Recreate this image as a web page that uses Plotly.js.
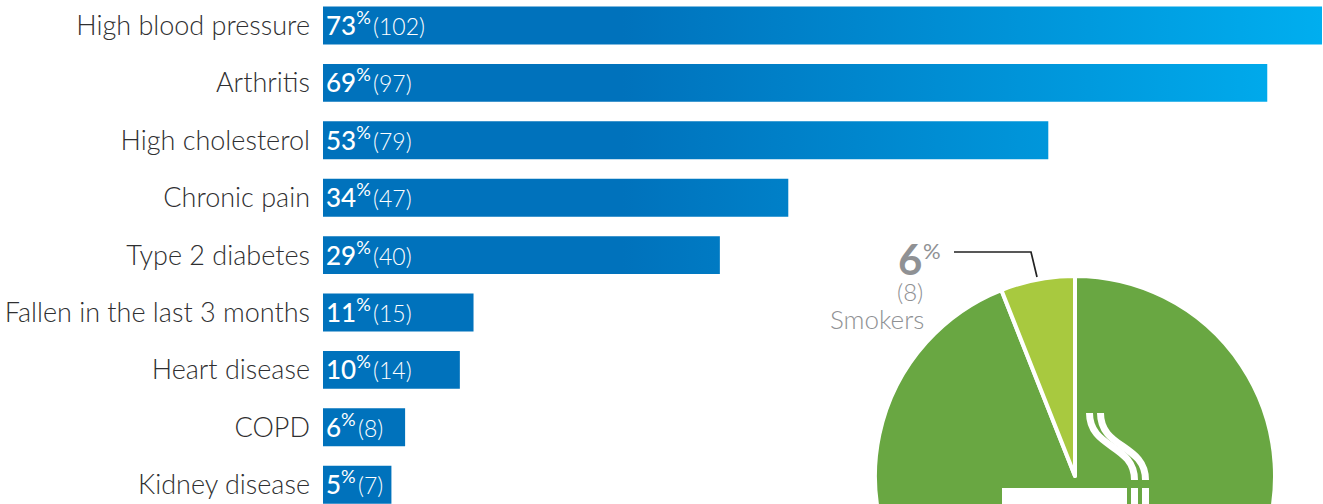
<!DOCTYPE html>
<html>
<head>
<meta charset="utf-8">
<script src="https://cdn.plot.ly/plotly-3.0.1.min.js"></script>
<style>
  html, body { margin: 0; padding: 0; background: #fff; width: 1323px; height: 504px; overflow: hidden; }
  #chart { width: 1323px; height: 700px; }
  #chart text { font-variant-ligatures: none; }
</style>
</head>
<body>
<div id="chart"></div>
<script>
// Health conditions: share of patients and number of patients
const conditions = ['High blood pressure', 'Arthritis', 'High cholesterol', 'Chronic pain', 'Type 2 diabetes',
  'Fallen in the last 3 months', 'Heart disease', 'COPD', 'Kidney disease'];
const percents = [73, 69, 53, 34, 29, 11, 10, 6, 5];
const counts = [102, 97, 79, 47, 40, 15, 14, 8, 7];

// Smoking status
const smokingLabels = ['Non-smokers', 'Smokers'];
const smokingPercents = [94, 6];
const smokerCount = 8;

const W = 1323, H = 700;
const MARGIN_L = 323, MARGIN_R = 1;
const PLOT_W = W - MARGIN_L - MARGIN_R;
const LABEL_FONT = 'Lato, "Open Sans", sans-serif';
const GREY = '#8f9194';

// Paper coordinates are measured across the plot area, inside the margins
const px = x => (x - MARGIN_L) / PLOT_W;
const py = y => 1 - y / H;
const pathOf = parts => parts.map(p => typeof p === 'string' ? p : px(p[0]) + ',' + py(p[1])).join(' ');

const smoke = (dx) => pathOf(['M', [1089.5 + dx, 413], 'C', [1089.5 + dx, 449], [1134.5 + dx, 444], [1134.5 + dx, 480]]);
const paperShape = o => Object.assign({ xref: 'paper', yref: 'paper', layer: 'above' }, o);

const shapes = [
  // Leader line from the smokers label to its slice
  paperShape({ type: 'path', path: pathOf(['M', [954, 252], 'L', [1031, 252], 'L', [1037, 277]]),
    line: { color: '#222222', width: 1.7 } }),
  // Cigarette icon on the pie
  paperShape({ type: 'path', path: smoke(0), line: { color: '#fff', width: 7 } }),
  paperShape({ type: 'path', path: smoke(11), line: { color: '#fff', width: 7 } }),
  paperShape({ type: 'rect', x0: px(1002), x1: px(1127), y0: py(488), y1: py(600), fillcolor: '#fff', line: { width: 0 } }),
  paperShape({ type: 'rect', x0: px(1131), x1: px(1138), y0: py(488), y1: py(600), fillcolor: '#fff', line: { width: 0 } }),
  paperShape({ type: 'rect', x0: px(1142), x1: px(1149), y0: py(488), y1: py(600), fillcolor: '#fff', line: { width: 0 } })
];

const note = (text, x, y, size, anchor, weight) => ({
  xref: 'paper', yref: 'paper', x: px(x), y: py(y), text, showarrow: false,
  xanchor: anchor, yanchor: 'middle',
  font: { family: LABEL_FONT, size, color: GREY, weight: weight || 300 }
});

const annotations = [
  note(String(smokingPercents[1]), 924, 259, 42, 'right', 700),
  note('%', 921, 250, 22, 'left', 400),
  note('(' + smokerCount + ')', 925, 291, 24, 'right', 300),
  note(smokingLabels[1], 926, 319, 26, 'right', 300)
];

const barLabel = (p, n) =>
  '<span style="font-weight:500">' + p + '</span><sup>%</sup>' +
  '<span style="font-size:9px"> </span>' +
  '<span style="font-size:23px;font-weight:300">(' + n + ')</span>';

const barTrace = {
  type: 'bar',
  orientation: 'h',
  y: conditions,
  x: percents,
  xaxis: 'x',
  yaxis: 'y',
  marker: { color: '#0072bc', line: { width: 0 } },
  text: percents.map((p, i) => barLabel(p, counts[i])),
  textposition: 'inside',
  insidetextanchor: 'start',
  constraintext: 'none',
  insidetextfont: { family: LABEL_FONT, size: 26, color: '#fff' },
  cliponaxis: true,
  hoverinfo: 'skip'
};

const pieTrace = {
  type: 'pie',
  labels: smokingLabels,
  values: smokingPercents,
  sort: false,
  direction: 'clockwise',
  rotation: 0,
  textinfo: 'none',
  hoverinfo: 'skip',
  marker: { colors: ['#69a742', '#a8c93f'], line: { color: '#fff', width: 4 } },
  domain: { x: [px(875), px(1275)], y: [py(676), py(276)] },
  showlegend: false
};

const layout = {
  width: W,
  height: H,
  margin: { l: MARGIN_L, r: MARGIN_R, t: 0, b: 0, pad: 0 },
  paper_bgcolor: '#fff',
  plot_bgcolor: '#fff',
  showlegend: false,
  bargap: 0.34,
  xaxis: { range: [0, 73], visible: false, fixedrange: true },
  yaxis: {
    type: 'category',
    domain: [1 - 504 / H, 1],
    range: [8.336, -0.444],
    showgrid: false, zeroline: false, showline: false,
    ticks: '', ticklabelstandoff: 12,
    tickfont: { family: LABEL_FONT, size: 27, color: '#2f2f31', weight: 300 },
    fixedrange: true
  },
  shapes,
  annotations
};

const gd = document.getElementById('chart');
Plotly.newPlot(gd, [barTrace, pieTrace], layout, { displayModeBar: false, staticPlot: true }).then(() => {
  // Horizontal blue ramp shared by every bar, measured along the x axis
  const xa = gd._fullLayout.xaxis;
  const svg = gd.querySelector('.main-svg');
  const ns = 'http://www.w3.org/2000/svg';
  const defs = svg.querySelector('defs') || svg.insertBefore(document.createElementNS(ns, 'defs'), svg.firstChild);
  const grad = document.createElementNS(ns, 'linearGradient');
  grad.setAttribute('id', 'barRamp');
  grad.setAttribute('gradientUnits', 'userSpaceOnUse');
  grad.setAttribute('x1', 0);
  grad.setAttribute('x2', xa.d2p(Math.max(...percents)));
  grad.setAttribute('y1', 0);
  grad.setAttribute('y2', 0);
  [['0', '#0072bc'], ['0.3', '#0072bc'], ['1', '#00aeef']].forEach(([o, c]) => {
    const stop = document.createElementNS(ns, 'stop');
    stop.setAttribute('offset', o);
    stop.setAttribute('stop-color', c);
    grad.appendChild(stop);
  });
  defs.appendChild(grad);
  gd.querySelectorAll('.barlayer .point path').forEach(p => { p.style.fill = 'url(#barRamp)'; });

  // The superscript pushes each bar label down; lift it back onto the bar's centre line
  gd.querySelectorAll('.barlayer text').forEach(t => {
    t.setAttribute('transform', 'translate(0,-2) ' + (t.getAttribute('transform') || ''));
  });
});
</script>
</body>
</html>
